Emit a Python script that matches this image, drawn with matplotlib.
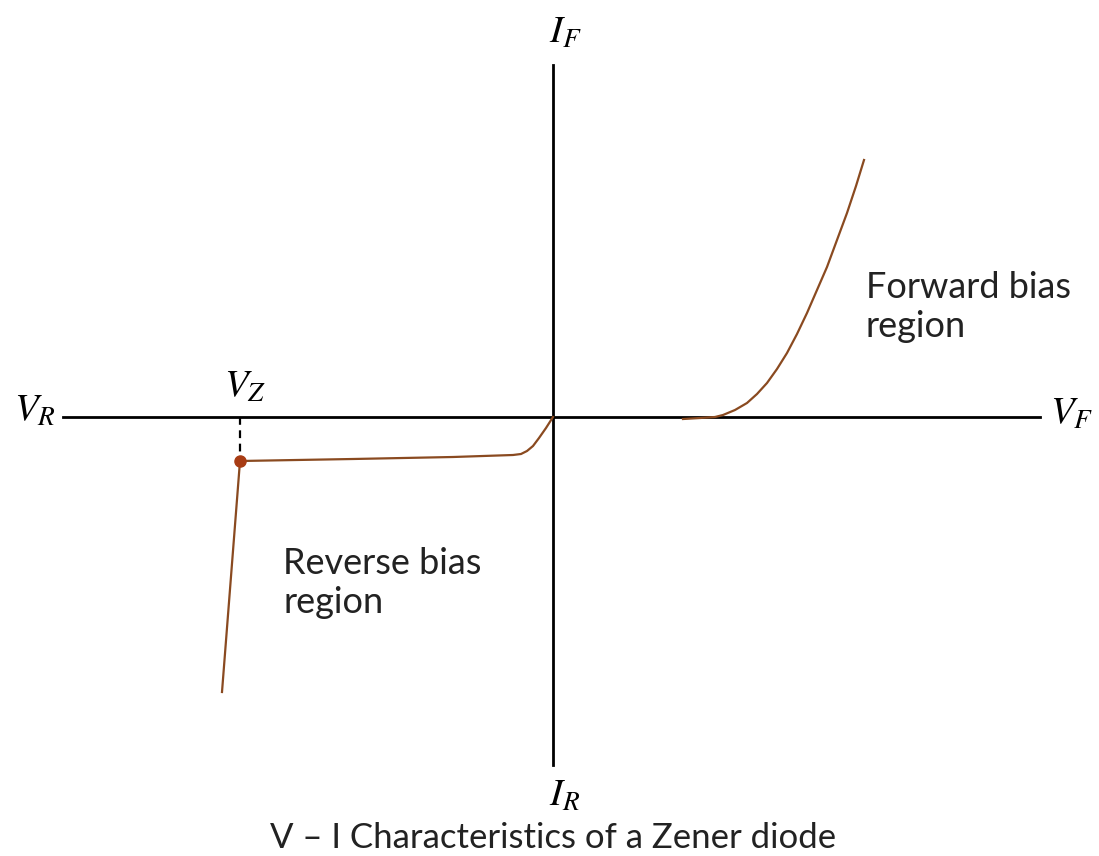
import matplotlib
matplotlib.use("Agg")
import matplotlib.pyplot as plt

plt.rcParams['mathtext.fontset'] = 'stix'

# Kennlinie (willkürliche Einheiten, Ursprung im Achsenkreuz)
fwd_v = [130, 147, 162, 170, 182, 194, 204, 214, 224, 234, 244, 254, 264,
         274, 284, 294, 303, 311]
fwd_i = [-2, -1, 0, 2, 7, 14, 23, 34, 48, 64, 83, 104, 127, 150, 177, 204,
         231, 257]

rev_v = [-331, -313, -200, -100, -40, -32, -26, -20, -14, -7, 0]
rev_i = [-275, -44, -42, -40, -38, -37, -34, -29, -21, -11, 0]

vz = -313  # Zener-Spannung
iz = -44

fig = plt.figure(figsize=(10.99, 8.56), dpi=100)
ax = fig.add_axes([0, 0, 1, 1])
ax.set_xlim(-553, 546)
ax.set_ylim(-439, 417)
ax.axis('off')

# Achsen
ax.plot([-490, 487], [0, 0], color='black', lw=2.0, zorder=1)
ax.plot([0, 0], [352, -348], color='black', lw=2.0, zorder=1)

# Kurven
brown = '#8a4a20'
ax.plot(fwd_v, fwd_i, color=brown, lw=1.6, zorder=2)
ax.plot(rev_v, rev_i, color=brown, lw=1.6, zorder=2)
ax.plot([vz, vz], [0, iz], color='black', lw=1.6, ls=(0, (3.5, 2.5)), zorder=1)
ax.plot([vz], [iz], 'o', color='#a83c14', ms=8, zorder=3)

# Beschriftungen
ms = 28
ax.text(-518, 7, r'$V_R$', fontsize=ms, ha='center', va='center')
ax.text(519, 4, r'$V_F$', fontsize=ms, ha='center', va='center')
ax.text(-308, 31, r'$V_Z$', fontsize=ms, ha='center', va='center')
ax.text(12, 385, r'$I_F$', fontsize=ms, ha='center', va='center')
ax.text(12, -378, r'$I_R$', fontsize=ms, ha='center', va='center')

tf = dict(family='Lato', color='#222222')
ax.text(313, 110, 'Forward bias\nregion', ha='left', va='center',
        fontsize=26, linespacing=1.2, **tf)
ax.text(-270, -166, 'Reverse bias\nregion', ha='left', va='center',
        fontsize=26, linespacing=1.2, **tf)
ax.text(0, -421, 'V – I Characteristics of a Zener diode', ha='center',
        va='center', fontsize=25, **tf)

fig.savefig('out.png', dpi=100)
